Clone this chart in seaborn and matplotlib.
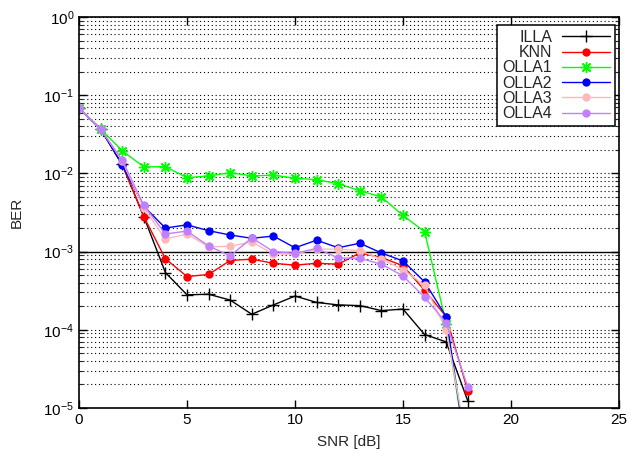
import numpy as np
import pandas as pd
import matplotlib
matplotlib.use("Agg")
import matplotlib.pyplot as plt
import matplotlib.ticker as mticker
import seaborn as sns

snr = [0, 1, 2, 3, 4, 5, 6, 7, 8, 9, 10, 11, 12, 13, 14, 15, 16, 17, 18]

illa = [0.068, 0.037, 0.013, 0.0028, 0.00054, 0.00028, 0.000285, 0.00024, 0.000158, 0.000208,
        0.00027, 0.000224, 0.000208, 0.000204, 0.000176, 0.000184, 0.000087, 0.00007, 0.0000123]
knn = [0.068, 0.037, 0.013, 0.0028, 0.00081, 0.00048, 0.00051, 0.00077, 0.00080, 0.00071,
       0.00067, 0.00071, 0.00069, 0.00096, 0.00084, 0.00066, 0.00032, 0.000147, 0.0000165]
olla1 = [0.068, 0.037, 0.0195, 0.0121, 0.0122, 0.0088, 0.0093, 0.0102, 0.0093, 0.0095,
         0.0087, 0.0083, 0.0074, 0.0060, 0.0050, 0.0029, 0.0018, 0.00012, 0.000002]
olla2 = [0.068, 0.037, 0.0128, 0.0038, 0.0020, 0.0022, 0.00185, 0.00163, 0.00148, 0.00158,
         0.00112, 0.0014, 0.00112, 0.00128, 0.00096, 0.00076, 0.00041, 0.000147, 0.000002]
olla3 = [0.068, 0.037, 0.0145, 0.0036, 0.00145, 0.00168, 0.00115, 0.00117, 0.00133, 0.00093,
         0.00093, 0.00108, 0.00107, 0.00103, 0.0008, 0.00059, 0.00037, 0.0001, 0.000003]
olla4 = [0.068, 0.037, 0.0148, 0.0039, 0.00168, 0.00183, 0.00118, 0.00088, 0.0015, 0.001,
         0.00095, 0.0011, 0.00083, 0.00082, 0.00069, 0.00049, 0.00026, 0.000123, 0.0000184]

names = ["ILLA", "KNN", "OLLA1", "OLLA2", "OLLA3", "OLLA4"]
series = [illa, knn, olla1, olla2, olla3, olla4]
colors = ["#000000", "#ff0000", "#00ff00", "#0000ff", "#ffb8b8", "#c080ff"]
markers = ["+", "o", (8, 2, 0), "o", "o", "o"]
msizes = [8, 6, 8, 6, 6, 6]

sns.set_style("ticks")
plt.rcParams["font.family"] = ["Liberation Sans", "DejaVu Sans"]
plt.rcParams["mathtext.fontset"] = "custom"
plt.rcParams["mathtext.rm"] = "Liberation Sans"
plt.rcParams["mathtext.it"] = "Liberation Sans:italic"
plt.rcParams["mathtext.bf"] = "Liberation Sans:bold"

fig = plt.figure(figsize=(6.31, 4.59), dpi=100)
ax = fig.add_axes([79 / 631, 1 - 408 / 459, (619 - 79) / 631, (408 - 17) / 459])

for name, vals, c, m, ms in zip(names, series, colors, markers, msizes):
    df = pd.DataFrame({"SNR": snr, "BER": vals})
    sns.lineplot(data=df, x="SNR", y="BER", ax=ax, color=c, marker=m, markersize=ms,
                 markeredgecolor=c, markerfacecolor=c, markeredgewidth=1.0 if m != "o" else 0,
                 linewidth=1.0, label=name, clip_on=True)

ax.set_yscale("log")
ax.set_xlim(0, 25)
ax.set_ylim(1e-5, 1)
ax.xaxis.set_major_locator(mticker.MultipleLocator(5))
ax.yaxis.set_major_locator(mticker.LogLocator(base=10, numticks=10))
ax.yaxis.set_minor_locator(mticker.LogLocator(base=10, subs=np.arange(2, 10), numticks=20))
ax.yaxis.set_minor_formatter(mticker.NullFormatter())

ax.grid(True, which="both", axis="y", color="black", linestyle=(0, (1, 2.5)), linewidth=0.8)
ax.grid(False, axis="x")
ax.axhline(1e-3, color="black", linewidth=1.0, zorder=1.5)

ax.tick_params(which="major", direction="in", length=6, width=1, top=True, right=True,
               labelsize=11, colors="black")
ax.tick_params(which="minor", direction="in", length=3, width=0.8, top=False, right=True)
for sp in ax.spines.values():
    sp.set_linewidth(1.2)
    sp.set_color("black")

ax.set_xlabel("SNR [dB]", fontsize=11, labelpad=6)
ax.set_ylabel("BER", fontsize=11, labelpad=14)

leg = ax.legend(loc="upper right", bbox_to_anchor=(1 - 4 / 540, 1 - 8 / 391), borderaxespad=0,
                markerfirst=False, fontsize=11.5, handlelength=3.0, handletextpad=0.65,
                labelspacing=0.02, borderpad=0.3, fancybox=False, framealpha=1,
                edgecolor="black")
leg.get_frame().set_linewidth(1.1)
leg.set_zorder(10)

fig.savefig("out.png", dpi=100)
